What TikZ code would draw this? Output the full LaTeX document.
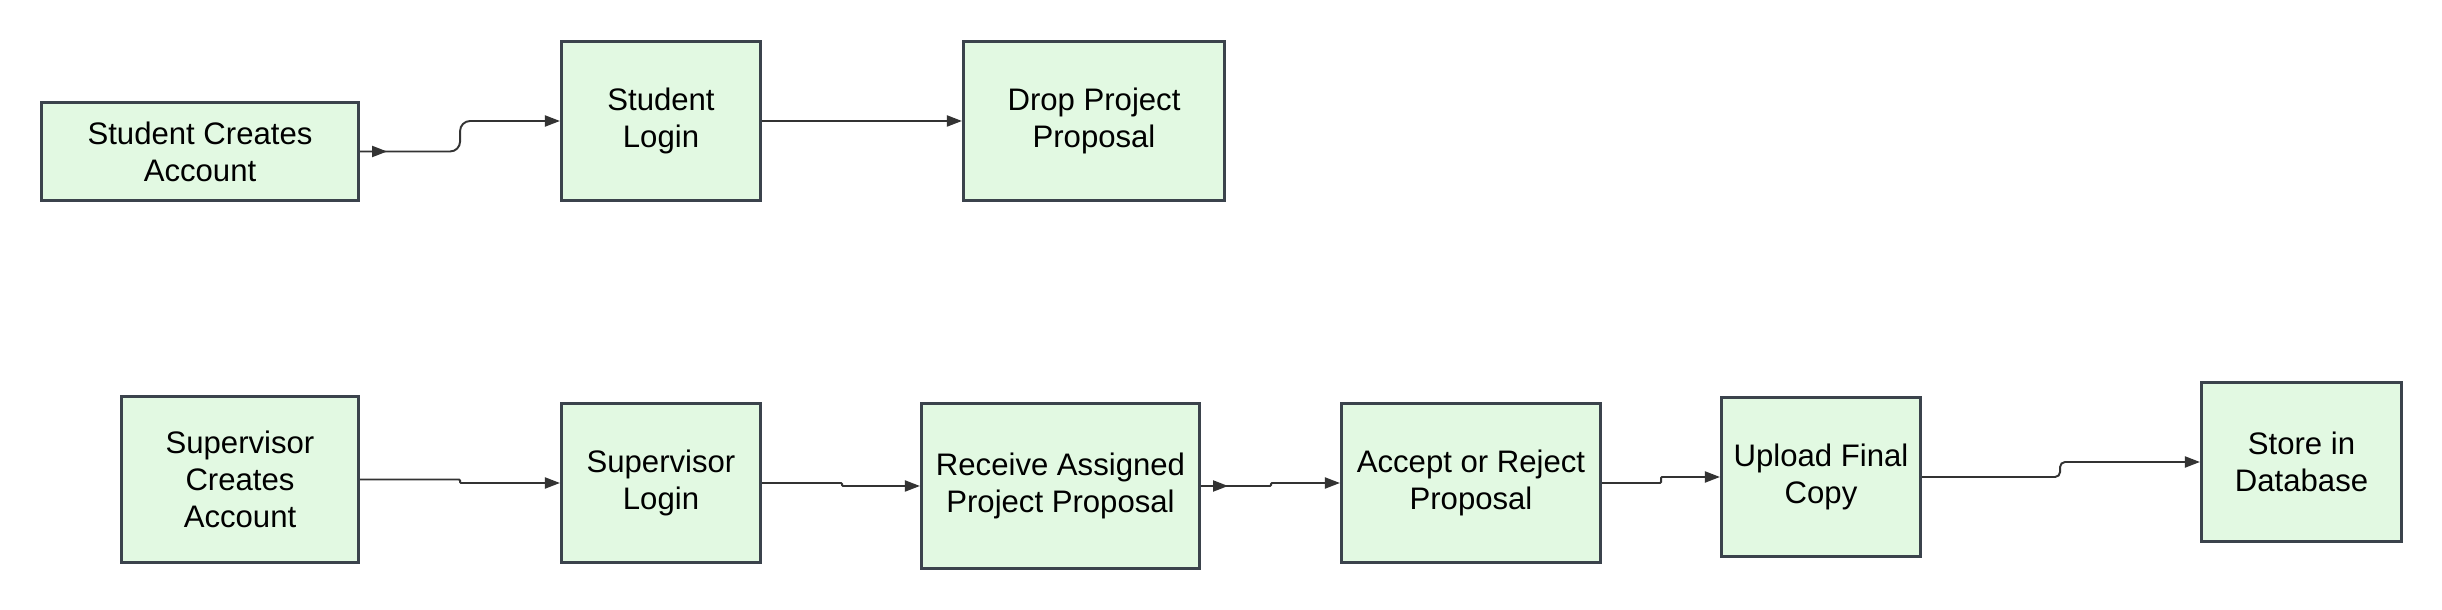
\documentclass[tikz,border=0pt]{standalone}
\usepackage{fontspec}
\setmainfont{Liberation Sans}
\usetikzlibrary{arrows.meta,decorations.markings}
\definecolor{boxfill}{HTML}{E2F9E2}
\definecolor{boxline}{HTML}{3B434C}
\definecolor{flowline}{HTML}{333333}

\begin{document}
\begin{tikzpicture}[x=0.01cm, y=0.01cm]
\tikzstyle{every node}+=[inner sep=0pt, font=\fontsize{8.85}{10.5}\selectfont]
\tikzstyle{box}=[draw=boxline, fill=boxfill, line width=0.85pt, align=center]
\tikzstyle{flow}=[draw=flowline, line width=0.55pt, rounded corners=0.1cm, -{Triangle[length=0.15cm,width=0.11cm]}]
\tikzstyle{tight}=[rounded corners=0.01cm]
\tikzstyle{early}=[postaction={decorate}, decoration={markings, mark=at position 0.27cm with {\arrow[flowline]{Triangle[length=0.15cm,width=0.11cm]}}}]
\useasboundingbox (0,0) rectangle (2442,-610);
\node [box, minimum width=3.17cm, minimum height=0.98cm] (sca) at (200,-151.5) {Student Creates\\Account};
\node [box, minimum width=1.99cm, minimum height=1.59cm] (sl) at (661,-121) {Student\\Login};
\node [box, minimum width=2.61cm, minimum height=1.59cm] (dpp) at (1094,-121) {Drop Project\\Proposal};
\node [box, minimum width=2.37cm, minimum height=1.66cm] (supca) at (240,-479.5) {Supervisor\\Creates\\Account};
\node [box, minimum width=1.99cm, minimum height=1.59cm] (supl) at (661,-483) {Supervisor\\Login};
\node [box, minimum width=2.78cm, minimum height=1.65cm] (rapp) at (1060.5,-486) {Receive Assigned\\Project Proposal};
\node [box, minimum width=2.59cm, minimum height=1.59cm] (arp) at (1471,-483) {Accept or Reject\\Proposal};
\node [box, minimum width=1.99cm, minimum height=1.59cm] (ufc) at (1821,-477) {Upload Final\\Copy};
\node [box, minimum width=2.00cm, minimum height=1.59cm] (sid) at (2301.5,-462) {Store in\\Database};
\draw [flow, early] (sca.east) -- ++(100,0) |- (sl.west);
\draw [flow] (sl.east) -- (dpp.west);
\draw [flow, tight] (supca.east) -- ++(100,0) |- (supl.west);
\draw [flow, tight] (supl.east) -- ++(80,0) |- (rapp.west);
\draw [flow, tight, early] (rapp.east) -- ++(70,0) |- (arp.west);
\draw [flow, tight] (arp.east) -- ++(59,0) |- (ufc.west);
\draw [flow, rounded corners=0.05cm] (ufc.east) -- ++(138,0) |- (sid.west);
\end{tikzpicture}
\end{document}
